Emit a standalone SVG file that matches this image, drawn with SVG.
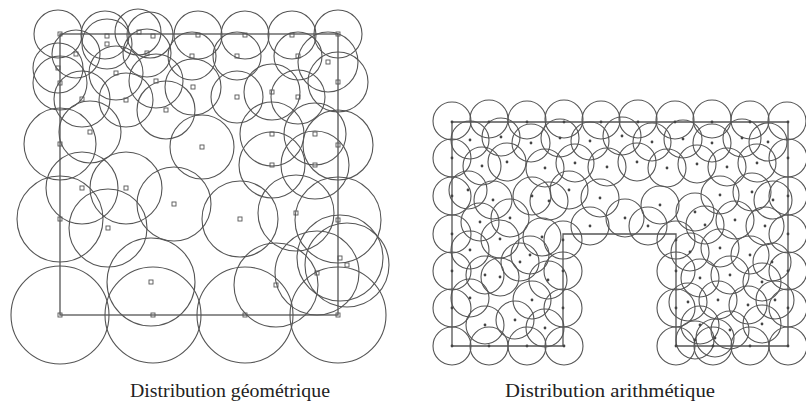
<svg xmlns="http://www.w3.org/2000/svg" xmlns:xlink="http://www.w3.org/1999/xlink" width="806" height="410" viewBox="0 0 806 410">
<style>
.c{fill:none;stroke:#555;stroke-width:1.1}
.b{fill:none;stroke:#555;stroke-width:1.3}
.sq{fill:none;stroke:#555;stroke-width:0.9}
.d{fill:#444}
.cap{font-family:"Liberation Serif","DejaVu Serif",serif;font-size:19px;fill:#222}
</style>
<defs>
<rect id="m" x="-2" y="-2" width="4" height="4" class="sq"/>
<circle id="p" r="1.4" class="d"/>
</defs>
<rect width="806" height="410" fill="#fff"/>
<g id="geometrique">
<rect x="60" y="34" width="278" height="281" class="b"/>
<g class="c">
<circle cx="58" cy="34" r="24"/><circle cx="105" cy="35" r="24"/><circle cx="138" cy="32" r="23"/><circle cx="150" cy="35" r="23"/><circle cx="198" cy="35" r="24"/><circle cx="245" cy="35" r="24"/><circle cx="292" cy="35" r="24"/><circle cx="338" cy="34" r="24"/>
<circle cx="107" cy="44" r="25"/><circle cx="76" cy="54" r="24"/><circle cx="147" cy="53" r="24"/><circle cx="192" cy="56" r="24"/><circle cx="237" cy="56" r="24"/><circle cx="298" cy="56" r="24"/><circle cx="328" cy="62" r="30"/>
<circle cx="58" cy="68" r="25"/><circle cx="60" cy="83" r="27"/>
<circle cx="116" cy="73" r="27"/><circle cx="156" cy="81" r="27"/><circle cx="193" cy="87" r="28"/><circle cx="237" cy="97" r="26"/><circle cx="272" cy="92" r="28"/><circle cx="298" cy="97" r="27"/><circle cx="338" cy="82" r="30"/>
<circle cx="82" cy="99" r="28"/><circle cx="126" cy="100" r="27"/><circle cx="166" cy="110" r="29"/>
<circle cx="60" cy="144" r="36"/><circle cx="90" cy="132" r="31"/><circle cx="202" cy="147" r="32"/><circle cx="272" cy="134" r="32"/><circle cx="315" cy="134" r="31"/><circle cx="272" cy="165" r="33"/><circle cx="315" cy="165" r="34"/><circle cx="338" cy="145" r="35"/>
<circle cx="82" cy="188" r="36"/><circle cx="126" cy="188" r="36"/><circle cx="174" cy="204" r="37"/><circle cx="240" cy="219" r="38"/><circle cx="296" cy="213" r="38"/><circle cx="60" cy="219" r="43"/><circle cx="108" cy="228" r="39"/><circle cx="338" cy="220" r="43"/>
<circle cx="151" cy="282" r="44"/><circle cx="276" cy="285" r="42"/><circle cx="317" cy="273" r="42"/><circle cx="340" cy="258" r="43"/><circle cx="347" cy="265" r="42"/>
<circle cx="60" cy="315" r="49"/><circle cx="153" cy="315" r="48"/><circle cx="245" cy="315" r="48"/><circle cx="338" cy="315" r="48"/>
</g>
<g>
<use xlink:href="#m" x="60" y="34"/><use xlink:href="#m" x="107" y="36"/><use xlink:href="#m" x="139" y="32"/><use xlink:href="#m" x="153" y="36"/><use xlink:href="#m" x="198" y="35"/><use xlink:href="#m" x="245" y="35"/><use xlink:href="#m" x="292" y="35"/><use xlink:href="#m" x="338" y="34"/>
<use xlink:href="#m" x="107" y="44"/><use xlink:href="#m" x="76" y="54"/><use xlink:href="#m" x="147" y="53"/><use xlink:href="#m" x="192" y="56"/><use xlink:href="#m" x="237" y="56"/><use xlink:href="#m" x="298" y="56"/><use xlink:href="#m" x="328" y="62"/>
<use xlink:href="#m" x="58" y="68"/><use xlink:href="#m" x="60" y="83"/>
<use xlink:href="#m" x="116" y="73"/><use xlink:href="#m" x="156" y="81"/><use xlink:href="#m" x="193" y="87"/><use xlink:href="#m" x="237" y="97"/><use xlink:href="#m" x="272" y="92"/><use xlink:href="#m" x="298" y="97"/><use xlink:href="#m" x="338" y="82"/>
<use xlink:href="#m" x="82" y="99"/><use xlink:href="#m" x="126" y="100"/><use xlink:href="#m" x="166" y="110"/>
<use xlink:href="#m" x="60" y="144"/><use xlink:href="#m" x="90" y="132"/><use xlink:href="#m" x="202" y="147"/><use xlink:href="#m" x="272" y="134"/><use xlink:href="#m" x="315" y="134"/><use xlink:href="#m" x="272" y="165"/><use xlink:href="#m" x="315" y="165"/><use xlink:href="#m" x="338" y="145"/>
<use xlink:href="#m" x="82" y="188"/><use xlink:href="#m" x="126" y="188"/><use xlink:href="#m" x="174" y="204"/><use xlink:href="#m" x="240" y="219"/><use xlink:href="#m" x="296" y="213"/><use xlink:href="#m" x="60" y="219"/><use xlink:href="#m" x="108" y="228"/><use xlink:href="#m" x="338" y="220"/>
<use xlink:href="#m" x="151" y="282"/><use xlink:href="#m" x="276" y="285"/><use xlink:href="#m" x="317" y="273"/><use xlink:href="#m" x="340" y="258"/><use xlink:href="#m" x="347" y="265"/>
<use xlink:href="#m" x="60" y="315"/><use xlink:href="#m" x="153" y="315"/><use xlink:href="#m" x="245" y="315"/><use xlink:href="#m" x="338" y="315"/>
</g>
<text class="cap" x="130" y="397" textLength="200" lengthAdjust="spacingAndGlyphs">Distribution géométrique</text>
</g>
<g id="arithmetique">
<polygon points="452,122 788,122 788,346 676,346 676,234 563,234 563,346 452,346" class="b"/>
<g class="c">
<circle cx="452" cy="121" r="19"/><circle cx="489" cy="119" r="19"/><circle cx="527" cy="120" r="19"/><circle cx="564" cy="119" r="19"/><circle cx="601" cy="120" r="19"/><circle cx="638" cy="119" r="19"/><circle cx="675" cy="120" r="19"/><circle cx="712" cy="119" r="19"/><circle cx="750" cy="120" r="19"/><circle cx="787" cy="121" r="19"/>
<circle cx="452" cy="158" r="19"/><circle cx="452" cy="196" r="19"/><circle cx="452" cy="234" r="19"/><circle cx="452" cy="271" r="19"/><circle cx="452" cy="308" r="19"/><circle cx="452" cy="346" r="19"/>
<circle cx="788" cy="158" r="19"/><circle cx="788" cy="196" r="19"/><circle cx="788" cy="234" r="19"/><circle cx="788" cy="271" r="19"/><circle cx="788" cy="308" r="19"/><circle cx="788" cy="346" r="19"/>
<circle cx="489" cy="346" r="19"/><circle cx="527" cy="346" r="19"/><circle cx="564" cy="346" r="19"/>
<circle cx="676" cy="346" r="19"/><circle cx="713" cy="346" r="19"/><circle cx="750" cy="346" r="19"/>
<circle cx="563" cy="271" r="19"/><circle cx="563" cy="308" r="19"/><circle cx="676" cy="271" r="19"/><circle cx="676" cy="308" r="19"/><circle cx="590" cy="226" r="19"/><circle cx="648" cy="226" r="19"/><circle cx="563" cy="240" r="19"/><circle cx="676" cy="240" r="19"/>
<circle cx="470" cy="140" r="19"/><circle cx="501" cy="137" r="19"/><circle cx="531" cy="143" r="19"/><circle cx="560" cy="138" r="19"/><circle cx="590" cy="141" r="19"/><circle cx="622" cy="136" r="19"/><circle cx="652" cy="142" r="19"/><circle cx="683" cy="139" r="19"/><circle cx="712" cy="143" r="19"/><circle cx="742" cy="138" r="19"/><circle cx="768" cy="142" r="19"/>
<circle cx="482" cy="166" r="19"/><circle cx="507" cy="162" r="19"/><circle cx="545" cy="168" r="19"/><circle cx="575" cy="163" r="19"/><circle cx="607" cy="167" r="19"/><circle cx="637" cy="162" r="19"/><circle cx="667" cy="168" r="19"/><circle cx="697" cy="164" r="19"/><circle cx="727" cy="167" r="19"/><circle cx="757" cy="163" r="19"/>
<circle cx="468" cy="190" r="19"/><circle cx="493" cy="200" r="19"/><circle cx="532" cy="196" r="19"/><circle cx="569" cy="190" r="19"/><circle cx="549" cy="201" r="19"/><circle cx="600" cy="198" r="19"/><circle cx="695" cy="212" r="19"/><circle cx="720" cy="195" r="19"/><circle cx="752" cy="192" r="19"/><circle cx="773" cy="200" r="19"/>
<circle cx="480" cy="222" r="19"/><circle cx="510" cy="218" r="19"/><circle cx="542" cy="237" r="19"/><circle cx="625" cy="218" r="19"/><circle cx="660" cy="205" r="19"/><circle cx="705" cy="225" r="19"/><circle cx="735" cy="220" r="19"/><circle cx="765" cy="226" r="19"/>
<circle cx="470" cy="250" r="19"/><circle cx="500" cy="239" r="19"/><circle cx="530" cy="255" r="19"/><circle cx="485" cy="275" r="19"/><circle cx="520" cy="262" r="19"/><circle cx="548" cy="280" r="19"/><circle cx="470" cy="298" r="19"/><circle cx="500" cy="277" r="19"/><circle cx="532" cy="300" r="19"/><circle cx="485" cy="325" r="19"/><circle cx="515" cy="320" r="19"/><circle cx="545" cy="328" r="19"/>
<circle cx="690" cy="252" r="19"/><circle cx="720" cy="248" r="19"/><circle cx="750" cy="255" r="19"/><circle cx="772" cy="262" r="19"/><circle cx="700" cy="278" r="19"/><circle cx="730" cy="275" r="19"/><circle cx="762" cy="282" r="19"/><circle cx="688" cy="302" r="19"/><circle cx="718" cy="300" r="19"/><circle cx="748" cy="305" r="19"/><circle cx="775" cy="300" r="19"/><circle cx="700" cy="325" r="19"/><circle cx="730" cy="330" r="19"/><circle cx="762" cy="324" r="19"/><circle cx="695" cy="340" r="19"/><circle cx="715" cy="338" r="19"/>
</g>
<g>
<use xlink:href="#p" x="452" y="122"/><use xlink:href="#p" x="489" y="122"/><use xlink:href="#p" x="527" y="122"/><use xlink:href="#p" x="564" y="122"/><use xlink:href="#p" x="601" y="122"/><use xlink:href="#p" x="638" y="122"/><use xlink:href="#p" x="675" y="122"/><use xlink:href="#p" x="712" y="122"/><use xlink:href="#p" x="750" y="122"/><use xlink:href="#p" x="788" y="122"/>
<use xlink:href="#p" x="452" y="158"/><use xlink:href="#p" x="452" y="196"/><use xlink:href="#p" x="452" y="234"/><use xlink:href="#p" x="452" y="271"/><use xlink:href="#p" x="452" y="308"/><use xlink:href="#p" x="452" y="346"/>
<use xlink:href="#p" x="788" y="158"/><use xlink:href="#p" x="788" y="196"/><use xlink:href="#p" x="788" y="234"/><use xlink:href="#p" x="788" y="271"/><use xlink:href="#p" x="788" y="308"/><use xlink:href="#p" x="788" y="346"/>
<use xlink:href="#p" x="489" y="346"/><use xlink:href="#p" x="527" y="346"/><use xlink:href="#p" x="564" y="346"/><use xlink:href="#p" x="676" y="346"/><use xlink:href="#p" x="713" y="346"/><use xlink:href="#p" x="750" y="346"/>
<use xlink:href="#p" x="563" y="271"/><use xlink:href="#p" x="563" y="308"/><use xlink:href="#p" x="676" y="271"/><use xlink:href="#p" x="676" y="308"/><use xlink:href="#p" x="590" y="226"/><use xlink:href="#p" x="648" y="226"/><use xlink:href="#p" x="563" y="240"/><use xlink:href="#p" x="676" y="240"/>
<use xlink:href="#p" x="470" y="140"/><use xlink:href="#p" x="501" y="137"/><use xlink:href="#p" x="531" y="143"/><use xlink:href="#p" x="560" y="138"/><use xlink:href="#p" x="590" y="141"/><use xlink:href="#p" x="622" y="136"/><use xlink:href="#p" x="652" y="142"/><use xlink:href="#p" x="683" y="139"/><use xlink:href="#p" x="712" y="143"/><use xlink:href="#p" x="742" y="138"/><use xlink:href="#p" x="768" y="142"/>
<use xlink:href="#p" x="482" y="166"/><use xlink:href="#p" x="507" y="162"/><use xlink:href="#p" x="545" y="168"/><use xlink:href="#p" x="575" y="163"/><use xlink:href="#p" x="607" y="167"/><use xlink:href="#p" x="637" y="162"/><use xlink:href="#p" x="667" y="168"/><use xlink:href="#p" x="697" y="164"/><use xlink:href="#p" x="727" y="167"/><use xlink:href="#p" x="757" y="163"/>
<use xlink:href="#p" x="468" y="190"/><use xlink:href="#p" x="493" y="200"/><use xlink:href="#p" x="532" y="196"/><use xlink:href="#p" x="569" y="190"/><use xlink:href="#p" x="549" y="201"/><use xlink:href="#p" x="600" y="198"/><use xlink:href="#p" x="695" y="212"/><use xlink:href="#p" x="720" y="195"/><use xlink:href="#p" x="752" y="192"/><use xlink:href="#p" x="773" y="200"/>
<use xlink:href="#p" x="480" y="222"/><use xlink:href="#p" x="510" y="218"/><use xlink:href="#p" x="542" y="237"/><use xlink:href="#p" x="625" y="218"/><use xlink:href="#p" x="660" y="205"/><use xlink:href="#p" x="705" y="225"/><use xlink:href="#p" x="735" y="220"/><use xlink:href="#p" x="765" y="226"/>
<use xlink:href="#p" x="470" y="250"/><use xlink:href="#p" x="500" y="239"/><use xlink:href="#p" x="530" y="255"/><use xlink:href="#p" x="485" y="275"/><use xlink:href="#p" x="520" y="262"/><use xlink:href="#p" x="548" y="280"/><use xlink:href="#p" x="470" y="298"/><use xlink:href="#p" x="500" y="277"/><use xlink:href="#p" x="532" y="300"/><use xlink:href="#p" x="485" y="325"/><use xlink:href="#p" x="515" y="320"/><use xlink:href="#p" x="545" y="328"/>
<use xlink:href="#p" x="690" y="252"/><use xlink:href="#p" x="720" y="248"/><use xlink:href="#p" x="750" y="255"/><use xlink:href="#p" x="772" y="262"/><use xlink:href="#p" x="700" y="278"/><use xlink:href="#p" x="730" y="275"/><use xlink:href="#p" x="762" y="282"/><use xlink:href="#p" x="688" y="302"/><use xlink:href="#p" x="718" y="300"/><use xlink:href="#p" x="748" y="305"/><use xlink:href="#p" x="775" y="300"/><use xlink:href="#p" x="700" y="325"/><use xlink:href="#p" x="730" y="330"/><use xlink:href="#p" x="762" y="324"/><use xlink:href="#p" x="695" y="340"/><use xlink:href="#p" x="715" y="338"/>
</g>
<text class="cap" x="505" y="397" textLength="210" lengthAdjust="spacingAndGlyphs">Distribution arithmétique</text>
</g>
</svg>
